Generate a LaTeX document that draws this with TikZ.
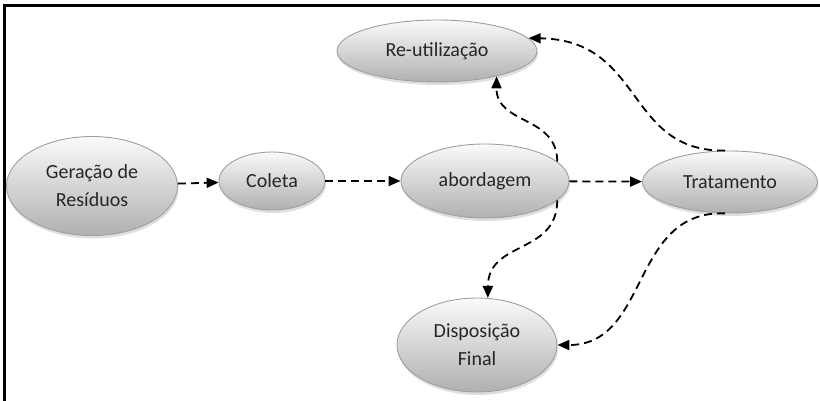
\documentclass[tikz,border=0pt]{standalone}
\usepackage{fontspec}
\setmainfont{Carlito}
\usetikzlibrary{shapes.geometric,arrows.meta,shadows}
\begin{document}
\begin{tikzpicture}[x=1pt,y=-1pt,
  bubble/.style={ellipse, draw=gray!75, line width=0.9pt, inner sep=0pt,
    top color=gray!4, bottom color=gray!62, text=black!85,
    font=\fontsize{20}{28}\selectfont, align=center,
    drop shadow={shadow xshift=1pt, shadow yshift=-3pt, opacity=0.25, fill=gray}},
  flow/.style={line width=1.8pt, dash pattern=on 8pt off 5pt,
    -{Triangle[length=12pt,width=10pt]}}]
\useasboundingbox (0,0) rectangle (820,401);
\draw[line width=3pt] (820,6) -- (4,6) -- (4,401);
\node[bubble, minimum width=200pt, minimum height=62pt] (reu) at (437,51) {Re-utilização};
\node[bubble, minimum width=171pt, minimum height=99pt] (ger) at (92,186) {Geração de\\Resíduos};
\node[bubble, minimum width=106pt, minimum height=58pt] (col) at (272,181) {Coleta};
\node[bubble, minimum width=168pt, minimum height=74pt] (abo) at (485,181) {abordagem};
\node[bubble, minimum width=175pt, minimum height=62pt] (tra) at (730,182) {Tratamento};
\node[bubble, minimum width=160pt, minimum height=94pt] (dis) at (477,345) {Disposição\\Final};
\draw[flow] (ger) -- (col);
\draw[flow] (col) -- (abo);
\draw[flow] (abo) -- (tra);
\draw[flow] (abo.15) .. controls (557,115) and (496,125) .. (reu.-23);
\draw[flow] (abo.-15) .. controls (557,255) and (488,240) .. (dis.77);
\draw[flow] (tra.99) .. controls (625,152) and (645,40) .. (reu.8);
\draw[flow] (tra.-99) .. controls (630,210) and (650,345) .. (dis.0);
\end{tikzpicture}
\end{document}
